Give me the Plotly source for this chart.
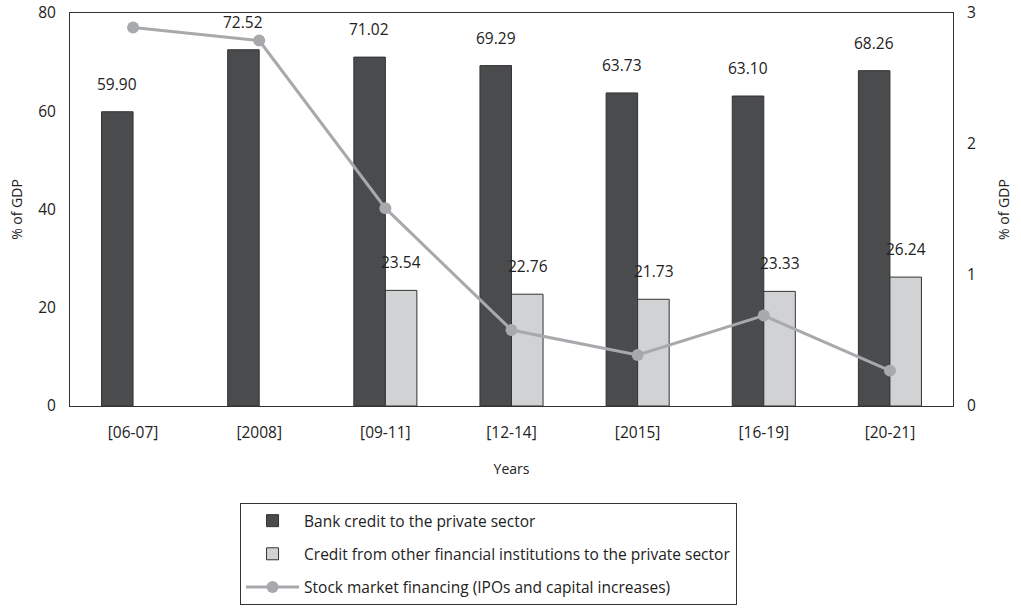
import plotly.graph_objects as go

categories = ["[06-07]", "[2008]", "[09-11]", "[12-14]", "[2015]", "[16-19]", "[20-21]"]
bank_credit = [59.90, 72.52, 71.02, 69.29, 63.73, 63.10, 68.26]
other_credit = [None, None, 23.54, 22.76, 21.73, 23.33, 26.24]
stock_market = [2.89, 2.79, 1.51, 0.58, 0.39, 0.69, 0.27]

FONT = "Open Sans"
fig = go.Figure()
fig.add_trace(go.Bar(
    x=categories, y=bank_credit, name="Bank credit to the private sector",
    marker=dict(color="#4a4b4d", line=dict(color="#333333", width=1)),
    legendgroup="a",
))
fig.add_trace(go.Bar(
    x=categories, y=other_credit,
    name="Credit from other financial institutions to the private sector",
    marker=dict(color="#d1d2d4", line=dict(color="#333333", width=1)),
    legendgroup="b",
))
fig.add_trace(go.Scatter(
    x=categories, y=stock_market, yaxis="y2", mode="lines+markers",
    name="Stock market financing (IPOs and capital increases)",
    line=dict(color="#a7a9ac", width=3),
    marker=dict(color="#a7a9ac", size=12),
    legendgroup="c",
))

annotations = []
for c, v in zip(categories, bank_credit):
    annotations.append(dict(x=c, y=v, xref="x", yref="y", text=f"{v:.2f}",
                            showarrow=False, xshift=-16, yshift=28,
                            font=dict(size=15.5, color="#222")))
for c, v in zip(categories, other_credit):
    if v is not None:
        annotations.append(dict(x=c, y=v, xref="x", yref="y", text=f"{v:.2f}",
                                showarrow=False, xshift=16, yshift=28,
                                font=dict(size=15.5, color="#222")))

fig.update_layout(
    width=1021, height=613,
    margin=dict(l=70, r=68, t=13, b=207, autoexpand=False),
    paper_bgcolor="white", plot_bgcolor="white",
    font=dict(family=FONT, size=15.5, color="#222"),
    barmode="group", bargap=0.5, bargroupgap=0,
    annotations=annotations,
    xaxis=dict(title=dict(text="Years", standoff=22, font=dict(size=14)),
               showline=True, linecolor="#333", automargin=False,
               linewidth=1, mirror=True, ticks="", showgrid=False,
               ticklabelstandoff=12),
    yaxis=dict(title=dict(text="% of GDP", standoff=12, font=dict(size=14)),
               range=[0, 80], dtick=20, automargin=False,
               showline=True, linecolor="#333", linewidth=1, showgrid=False,
               zeroline=False, ticks="", ticklabelstandoff=10),
    yaxis2=dict(title=dict(text="% of GDP", standoff=24, font=dict(size=14)),
                range=[0, 3], dtick=1, automargin=False,
                overlaying="y", side="right", showline=True, linecolor="#333",
                linewidth=1, showgrid=False, zeroline=False, ticks="",
                ticklabelstandoff=10),
    legend=dict(x=0.474, xanchor="center", y=-0.247, yanchor="top",
                bordercolor="#333", borderwidth=1, tracegroupgap=10,
                traceorder="grouped", itemwidth=53, font=dict(size=15.5)),
)

fig.write_html("out.html", config={"displayModeBar": False},
               post_script="document.body.style.margin='0';document.body.style.overflow='hidden';")
